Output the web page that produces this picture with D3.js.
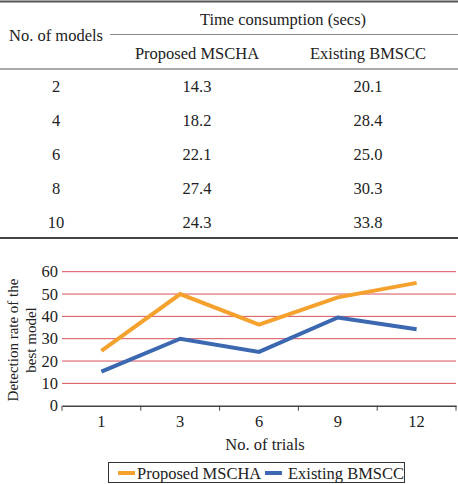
<!DOCTYPE html>
<html>
<head>
<meta charset="utf-8">
<script src="https://cdn.jsdelivr.net/npm/d3@7"></script>
<style>
  body { margin: 0; background: #fff; }
</style>
</head>
<body>
<svg width="458" height="484"></svg>
<script>
  // table data
  const models = ['2', '4', '6', '8', '10'];
  const timeProposed = ['14.3', '18.2', '22.1', '27.4', '24.3'];
  const timeExisting = ['20.1', '28.4', '25.0', '30.3', '33.8'];

  // chart data
  const trials = ['1', '3', '6', '9', '12'];
  const rateProposed = [24.5, 50, 36.3, 48.5, 55];
  const rateExisting = [15.3, 30, 24.1, 39.5, 34.2];
  const yTicks = [0, 10, 20, 30, 40, 50, 60];
  const seriesNames = ['Proposed MSCHA', 'Existing BMSCC'];
  const seriesColors = ['#f4a12d', '#3b68b0'];

  const FONT = '"Liberation Serif"';
  const svg = d3.select('svg');

  // ---- table ----
  const colX = [56, 197, 368];
  const table = svg.append('g').attr('font-size', 16.5).attr('fill', '#222');

  table.append('line').attr('x1', 0).attr('x2', 458).attr('y1', 1.5).attr('y2', 1.5)
    .attr('stroke', '#555').attr('stroke-width', 2);
  table.append('line').attr('x1', 110).attr('x2', 458).attr('y1', 34.5).attr('y2', 34.5)
    .attr('stroke', '#888').attr('stroke-width', 1);
  table.append('line').attr('x1', 0).attr('x2', 458).attr('y1', 69).attr('y2', 69)
    .attr('stroke', '#aaa').attr('stroke-width', 2);
  table.append('line').attr('x1', 0).attr('x2', 458).attr('y1', 238).attr('y2', 238)
    .attr('stroke', '#444').attr('stroke-width', 2);

  table.append('text').attr('x', 283).attr('y', 19).attr('dy', '0.35em')
    .attr('text-anchor', 'middle').text('Time consumption (secs)');
  table.append('text').attr('x', colX[0]).attr('y', 35).attr('dy', '0.35em')
    .attr('text-anchor', 'middle').text('No. of models');
  table.append('text').attr('x', colX[1]).attr('y', 53).attr('dy', '0.35em')
    .attr('text-anchor', 'middle').text(seriesNames[0]);
  table.append('text').attr('x', colX[2]).attr('y', 53).attr('dy', '0.35em')
    .attr('text-anchor', 'middle').text(seriesNames[1]);

  const rowY = d3.scalePoint().domain(models).range([86, 222]);
  const rows = table.selectAll('g.row').data(models).enter().append('g')
    .attr('class', 'row')
    .attr('transform', d => `translate(0,${rowY(d)})`);
  rows.append('text').attr('x', colX[0]).attr('dy', '0.35em').attr('text-anchor', 'middle').text(d => d);
  rows.append('text').attr('x', colX[1]).attr('dy', '0.35em').attr('text-anchor', 'middle').text((d, i) => timeProposed[i]);
  rows.append('text').attr('x', colX[2]).attr('dy', '0.35em').attr('text-anchor', 'middle').text((d, i) => timeExisting[i]);

  // ---- line chart ----
  const margin = { left: 62, right: 2, top: 271.7, bottom: 405.7 };
  const xScale = d3.scaleBand().domain(trials).range([margin.left, 458 - margin.right]);
  const yScale = d3.scaleLinear().domain([0, 60]).range([margin.bottom, margin.top]);

  const chart = svg.append('g');

  chart.selectAll('line.grid').data(yTicks.filter(t => t > 0)).enter().append('line')
    .attr('class', 'grid')
    .attr('x1', margin.left).attr('x2', 458 - margin.right)
    .attr('y1', d => yScale(d)).attr('y2', d => yScale(d))
    .attr('stroke', '#d9505c').attr('stroke-width', 1);

  const yAxis = d3.axisLeft(yScale).tickValues(yTicks).tickSize(0).tickPadding(4);
  const yAxisG = chart.append('g').attr('transform', `translate(${margin.left},0)`).call(yAxis);
  yAxisG.select('.domain').remove();
  yAxisG.selectAll('text').attr('font-size', 16.5).attr('fill', '#222');

  const xAxis = d3.axisBottom(xScale).tickSize(0).tickPadding(10);
  const xAxisG = chart.append('g').attr('transform', `translate(0,${margin.bottom})`).call(xAxis);
  xAxisG.select('.domain').attr('stroke', '#444').attr('stroke-width', 1.5);
  xAxisG.selectAll('text').attr('font-size', 16.5).attr('fill', '#222');
  // band edge ticks
  const edges = trials.map(t => xScale(t)).concat([xScale(trials[trials.length - 1]) + xScale.bandwidth()]);
  xAxisG.selectAll('line.edge').data(edges).enter().append('line')
    .attr('class', 'edge')
    .attr('x1', d => d).attr('x2', d => d).attr('y1', 0).attr('y2', 5)
    .attr('stroke', '#444').attr('stroke-width', 1);

  const lineGen = d3.line()
    .x((d, i) => xScale(trials[i]) + xScale.bandwidth() / 2)
    .y(d => yScale(d));

  [rateProposed, rateExisting].forEach((vals, k) => {
    chart.append('path').datum(vals)
      .attr('d', lineGen)
      .attr('fill', 'none')
      .attr('stroke', seriesColors[k])
      .attr('stroke-width', 4)
      .attr('stroke-linejoin', 'miter');
  });

  // axis titles
  const yTitle = chart.append('text')
    .attr('transform', 'translate(22,340) rotate(-90)')
    .attr('text-anchor', 'middle').attr('font-size', 15).attr('fill', '#222');
  yTitle.append('tspan').attr('x', 0).attr('dy', '-0.3em').text('Detection rate of the');
  yTitle.append('tspan').attr('x', 0).attr('dy', '1.25em').text('best model');

  chart.append('text').attr('x', 265).attr('y', 444).attr('dy', '0.35em')
    .attr('text-anchor', 'middle').attr('font-size', 16.5).attr('fill', '#222')
    .text('No. of trials');

  // legend
  const legend = chart.append('g');
  legend.append('rect').attr('x', 108.5).attr('y', 462.5).attr('width', 296).attr('height', 20)
    .attr('fill', 'none').attr('stroke', '#333').attr('stroke-width', 1);
  const legendX = [[118, 137], [265, 288]];
  seriesNames.forEach((name, k) => {
    legend.append('line')
      .attr('x1', legendX[k][0]).attr('x2', legendX[k][0] + 17)
      .attr('y1', 473).attr('y2', 473)
      .attr('stroke', seriesColors[k]).attr('stroke-width', 4);
    legend.append('text').attr('x', legendX[k][1]).attr('y', 473).attr('dy', '0.35em')
      .attr('font-size', 16.5).attr('fill', '#222').text(name);
  });

  svg.selectAll('text').style('font-family', FONT);
</script>
</body>
</html>
